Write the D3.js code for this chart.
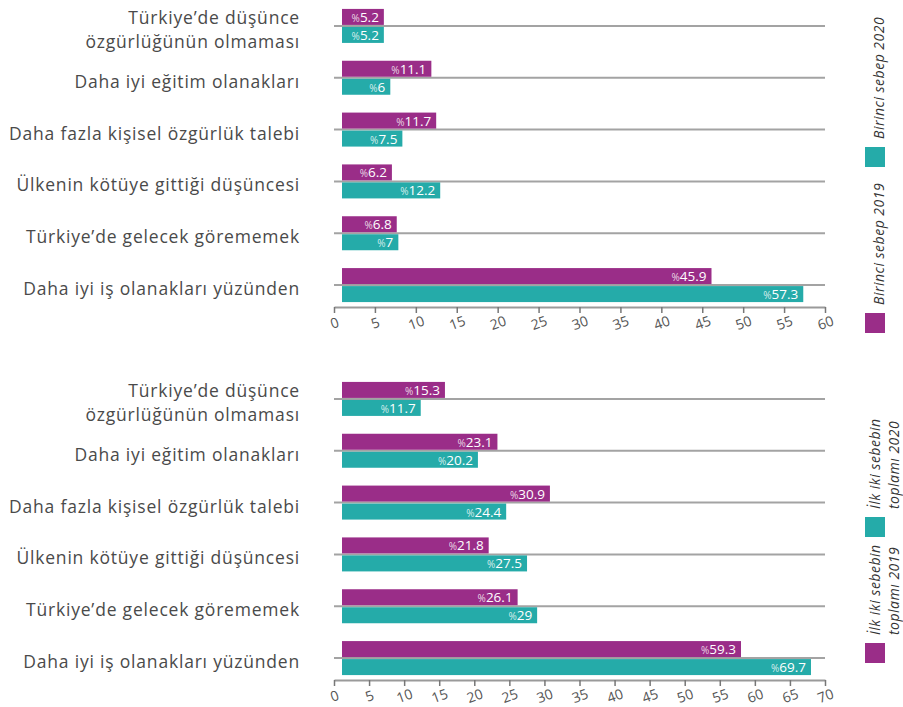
<!DOCTYPE html>
<html>
<head>
<meta charset="utf-8">
<script src="https://cdn.jsdelivr.net/npm/d3@7"></script>
<style>
  body { margin: 0; background: #fff; }
  text { font-family: "Open Sans", "Noto Sans", sans-serif; }
</style>
</head>
<body>
<script>
// Veriler
const kategoriler = [
  ["Türkiye’de düşünce", "özgürlüğünün olmaması"],
  ["Daha iyi eğitim olanakları"],
  ["Daha fazla kişisel özgürlük talebi"],
  ["Ülkenin kötüye gittiği düşüncesi"],
  ["Türkiye’de gelecek görememek"],
  ["Daha iyi iş olanakları yüzünden"]
];
const birinci2019 = [5.2, 11.1, 11.7, 6.2, 6.8, 45.9];
const birinci2020 = [5.2, 6, 7.5, 12.2, 7, 57.3];
const toplam2019 = [15.3, 23.1, 30.9, 21.8, 26.1, 59.3];
const toplam2020 = [11.7, 20.2, 24.4, 27.5, 29, 69.7];
const ustTikler = d3.range(0, 61, 5);
const altTikler = d3.range(0, 71, 5);
const ustLejant = [["Birinci sebep 2020"], ["Birinci sebep 2019"]];
const altLejant = [["İlk iki sebebin", "toplamı 2020"], ["İlk iki sebebin", "toplamı 2019"]];

const mor = "#9a2d88";
const turkuaz = "#25aba9";

const svg = d3.select("body").append("svg")
  .attr("width", 903)
  .attr("height", 707);

function panel(ayar) {
  const g = svg.append("g");
  const x = d3.scaleLinear().domain([0, ayar.max]).range([334, 825]);
  // cubuklar eksenden biraz iceride basliyor
  const xb = d3.scaleLinear().domain([0, ayar.max]).range([342, ayar.barSon]);
  const y = d3.scaleBand().domain(d3.range(kategoriler.length)).range([ayar.ust, ayar.ust + 311]);

  // yatay cizgiler
  g.selectAll(".grid").data(kategoriler).join("line")
    .attr("x1", 334).attr("x2", 825)
    .attr("y1", (d, i) => y(i) + y.bandwidth() / 2)
    .attr("y2", (d, i) => y(i) + y.bandwidth() / 2)
    .attr("stroke", "#a3a3a3")
    .attr("stroke-width", 2);

  const seriler = [
    { veri: ayar.s2019, renk: mor, dy: -17 },
    { veri: ayar.s2020, renk: turkuaz, dy: 1 }
  ];

  seriler.forEach(s => {
    g.selectAll(null).data(s.veri).join("rect")
      .attr("x", xb(0))
      .attr("y", (d, i) => y(i) + y.bandwidth() / 2 + s.dy)
      .attr("width", d => xb(d) - xb(0))
      .attr("height", 16)
      .attr("fill", s.renk);

    const etiket = g.selectAll(null).data(s.veri).join("text")
      .attr("x", d => xb(d) - 5)
      .attr("y", (d, i) => y(i) + y.bandwidth() / 2 + s.dy + 13)
      .attr("text-anchor", "end")
      .attr("fill", "#fff");
    etiket.append("tspan").attr("font-size", "10px").attr("fill-opacity", 0.8).text("%");
    etiket.append("tspan").attr("font-size", "13.5px").text(d => d);
  });

  // kategori isimleri
  g.selectAll(".kat").data(kategoriler).join("text")
    .attr("text-anchor", "end")
    .attr("font-size", "17.5px")
    .attr("letter-spacing", "0.8px")
    .attr("fill", "#4a4a4a")
    .each(function(d, i) {
      const c = y(i) + y.bandwidth() / 2;
      const t = d3.select(this);
      d.forEach((satir, j) => {
        t.append("tspan")
          .attr("x", 300)
          .attr("y", c + 10 + (j - (d.length - 1) / 2) * 24)
          .text(satir);
      });
    });

  // eksen
  const eksen = g.append("g")
    .attr("transform", `translate(0,${ayar.ust + 307})`)
    .call(d3.axisBottom(x).tickValues(ayar.tikler).tickSize(6).tickSizeOuter(0));
  eksen.select(".domain").attr("stroke", "#9a9a9a").attr("stroke-width", 2);
  eksen.selectAll(".tick line").attr("stroke", "#777").attr("stroke-width", 1.5);
  eksen.selectAll(".tick text")
    .attr("y", 0).attr("dy", "0.35em")
    .attr("transform", "translate(0,16) rotate(-20)")
    .attr("font-size", "14px")
    .attr("font-family", "'Open Sans', sans-serif")
    .attr("fill", "#555");

  // lejant
  const renkler = [turkuaz, mor];
  ayar.lejant.forEach((l, k) => {
    const kareY = ayar.lejantY[k];
    g.append("rect")
      .attr("x", 865).attr("y", kareY)
      .attr("width", 20).attr("height", 20)
      .attr("fill", renkler[k]);
    const bx = l.length === 1 ? 884 : 880;
    l.forEach((satir, j) => {
      g.append("text")
        .attr("transform", `translate(${bx + j * 19},${kareY - 8}) rotate(-90)`)
        .attr("font-size", "14px")
        .attr("letter-spacing", "0.5px")
        .attr("font-style", "italic")
        .attr("fill", "#333")
        .text(satir);
    });
  });
}

panel({ ust: 0, max: 60, barSon: 825, tikler: ustTikler, s2019: birinci2019, s2020: birinci2020, lejant: ustLejant, lejantY: [147, 313] });
panel({ ust: 373, max: 70, barSon: 813, tikler: altTikler, s2019: toplam2019, s2020: toplam2020, lejant: altLejant, lejantY: [517, 643] });
</script>
</body>
</html>
